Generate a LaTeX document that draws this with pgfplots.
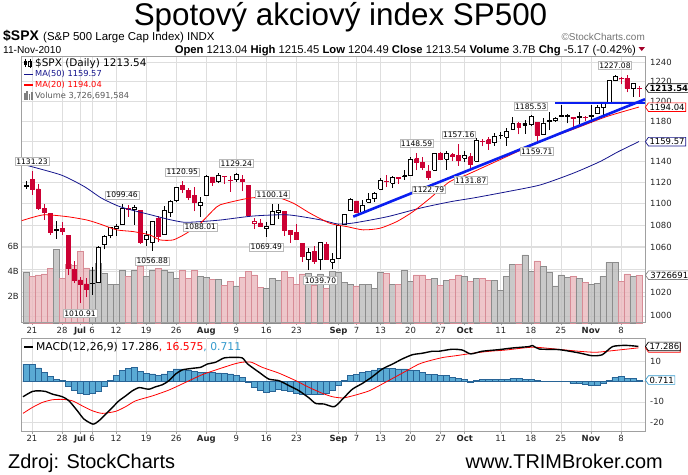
\documentclass[border=0pt]{standalone}
\usepackage{pgfplots}
\pgfplotsset{compat=1.18}
\usepackage{pgfplotstable}
\usetikzlibrary{shapes.symbols}
\usepackage{fontspec}
\setmainfont{Liberation Sans}
\newfontfamily\dv{DejaVu Sans}

\definecolor{cred}{RGB}{204,0,51}
\definecolor{navyma}{RGB}{20,20,140}
\definecolor{trend}{RGB}{10,30,240}
\definecolor{vgray}{RGB}{188,188,188}
\definecolor{vgrayd}{RGB}{140,140,140}
\definecolor{vpink}{RGB}{234,184,189}
\definecolor{vpinkd}{RGB}{215,140,150}
\definecolor{hist}{RGB}{90,170,212}
\definecolor{histd}{RGB}{40,100,150}
\definecolor{gridc}{RGB}{222,222,222}
\definecolor{gridm}{RGB}{175,175,175}
\definecolor{framec}{RGB}{160,160,160}
\definecolor{macdblue}{RGB}{51,153,204}

\pgfplotstableread{
i o h l c v
0 1116.16 1121.01 1113.93 1117.51 3.95
1 1122.79 1131.23 1108.24 1113.20 3.60
2 1113.90 1118.50 1094.18 1095.31 3.74
3 1095.57 1099.64 1085.31 1092.04 3.82
4 1090.93 1090.93 1071.60 1073.69 4.27
5 1075.10 1083.56 1067.89 1076.76 5.80
6 1077.50 1082.60 1071.45 1074.57 3.47
7 1071.10 1071.10 1035.18 1041.24 4.60
8 1040.56 1048.08 1028.33 1030.71 4.50
9 1031.10 1033.58 1010.91 1027.37 5.60
10 1027.65 1032.95 1015.93 1022.58 4.30
11 1028.09 1042.50 1018.35 1028.06 4.08
12 1028.54 1060.89 1028.54 1060.27 4.67
13 1062.92 1071.25 1058.24 1070.25 3.87
14 1070.50 1078.16 1068.10 1077.96 3.00
15 1077.23 1080.78 1070.45 1078.75 3.00
16 1080.65 1099.46 1080.65 1095.34 4.08
17 1095.61 1099.08 1087.68 1095.17 3.65
18 1094.46 1098.66 1080.53 1096.48 4.08
19 1093.85 1093.85 1063.32 1064.88 4.46
20 1066.85 1074.70 1061.11 1071.25 3.65
21 1064.53 1083.94 1056.88 1083.48 4.08
22 1086.67 1088.96 1065.25 1069.59 4.27
23 1072.14 1097.50 1072.14 1093.67 4.08
24 1092.17 1103.73 1087.88 1102.66 3.92
25 1102.89 1115.01 1101.30 1115.01 3.47
26 1117.36 1120.95 1109.78 1113.84 4.08
27 1112.84 1114.66 1103.11 1106.13 3.47
28 1108.07 1115.90 1092.82 1101.53 4.08
29 1098.44 1106.44 1088.01 1101.60 3.60
30 1107.53 1127.30 1107.53 1125.86 3.55
31 1125.34 1125.44 1116.76 1120.46 3.39
32 1121.06 1128.75 1119.46 1127.24 3.39
33 1125.78 1126.56 1118.81 1125.81 2.93
34 1122.07 1126.56 1111.38 1121.64 3.25
35 1122.80 1129.24 1120.91 1127.79 2.86
36 1122.92 1127.16 1111.58 1121.06 3.55
37 1116.89 1116.89 1088.55 1089.47 4.00
38 1081.48 1086.72 1076.69 1083.61 3.74
39 1082.22 1086.25 1079.00 1079.25 2.74
40 1077.49 1082.62 1069.49 1079.38 2.66
41 1081.16 1100.14 1081.16 1092.54 3.47
42 1092.08 1099.77 1085.76 1094.16 3.33
43 1092.44 1092.44 1070.66 1075.63 4.00
44 1075.63 1075.63 1063.91 1071.69 3.55
45 1073.36 1081.58 1067.08 1067.36 3.00
46 1063.20 1063.20 1046.68 1051.87 3.82
47 1048.98 1059.38 1039.83 1055.33 3.87
48 1056.28 1061.45 1045.40 1047.22 2.93
49 1049.27 1065.21 1039.70 1064.59 3.82
50 1062.90 1064.40 1048.79 1048.92 2.66
51 1046.88 1055.14 1040.88 1049.33 4.00
52 1049.72 1081.30 1049.72 1080.29 3.92
53 1080.66 1090.10 1080.39 1090.10 3.12
54 1093.61 1105.10 1093.61 1104.51 3.00
55 1102.60 1102.60 1091.15 1091.84 2.86
56 1092.36 1103.26 1092.36 1098.87 3.00
57 1101.15 1110.27 1101.15 1104.18 3.00
58 1104.57 1110.88 1101.66 1109.55 2.66
59 1113.38 1123.87 1113.38 1121.90 3.92
60 1121.16 1127.36 1115.58 1121.10 3.87
61 1119.43 1126.46 1114.63 1125.07 3.00
62 1123.89 1125.44 1118.88 1124.66 3.00
63 1126.39 1131.47 1122.43 1125.59 4.08
64 1126.57 1144.86 1126.57 1142.71 3.20
65 1142.82 1148.59 1131.87 1139.78 3.74
66 1139.49 1144.38 1131.58 1134.28 3.74
67 1131.10 1136.77 1122.79 1124.83 3.39
68 1131.69 1148.40 1131.69 1148.17 3.47
69 1148.14 1149.52 1142.00 1142.16 2.93
70 1142.31 1150.00 1132.09 1147.70 3.33
71 1146.75 1148.63 1140.26 1144.73 3.39
72 1145.97 1157.16 1136.08 1141.20 3.74
73 1143.49 1150.30 1139.42 1146.24 3.65
74 1144.96 1148.16 1131.87 1137.03 3.25
75 1140.68 1162.76 1140.68 1160.75 3.47
76 1159.81 1162.33 1154.85 1159.97 3.47
77 1161.57 1163.87 1151.41 1158.06 3.33
78 1158.36 1167.73 1155.58 1165.15 3.33
79 1165.32 1168.68 1162.02 1165.32 2.53
80 1164.28 1172.58 1155.71 1169.77 3.65
81 1171.32 1184.38 1171.32 1178.10 4.60
82 1177.82 1178.89 1166.71 1173.81 4.60
83 1177.47 1181.20 1167.12 1176.19 5.34
84 1176.83 1185.53 1174.55 1184.71 4.00
85 1178.64 1178.64 1159.71 1165.90 4.86
86 1166.74 1182.94 1166.74 1178.17 4.40
87 1179.82 1189.43 1171.17 1180.26 3.92
88 1180.52 1183.93 1178.99 1183.08 2.86
89 1184.74 1196.14 1184.74 1185.62 3.74
90 1184.88 1187.11 1177.72 1185.64 3.55
91 1183.84 1183.84 1171.70 1182.45 3.65
92 1184.47 1189.53 1177.10 1183.78 3.47
93 1183.87 1185.46 1179.70 1183.26 3.14
94 1185.71 1195.81 1177.65 1184.38 3.00
95 1187.86 1195.88 1187.86 1193.57 3.06
96 1193.79 1198.30 1183.56 1197.96 3.65
97 1198.34 1221.25 1198.34 1221.06 4.74
98 1221.20 1227.08 1220.29 1225.85 4.74
99 1223.24 1224.57 1217.55 1223.25 3.25
100 1223.59 1226.84 1208.94 1213.40 3.82
101 1213.14 1218.75 1204.33 1218.71 3.65
102 1213.04 1215.45 1204.49 1213.54 3.73
}\ohlc

\pgfplotstableread{
i v
-0.8 1137.8
5.8 1127.2
9.7 1116.1
12.5 1105.4
15.3 1097.9
17.5 1094.2
20.8 1089.6
23.6 1085.6
26.3 1082.8
29.1 1083.4
32.4 1084.9
37.9 1088.6
43.6 1089.6
49.1 1084.9
51.9 1081.2
54.6 1082.2
60.2 1088.0
65.7 1096.0
70.7 1101.9
74.5 1105.4
80.2 1111.4
85.6 1117.7
91.1 1128.9
95.5 1140.0
98.5 1149.5
102 1159.57
}\maL

\pgfplotstableread{
i v
-0.7 1084.3
2.9 1089.6
6.8 1088.0
10.1 1084.9
12.3 1081.2
15.1 1075.8
17.9 1074.2
20.6 1071.2
22.3 1066.7
24.5 1066.7
26.7 1072.7
29.0 1081.8
31.2 1094.2
32.3 1098.9
35.6 1103.5
37.8 1105.6
41.7 1106.0
44.5 1100.4
47.3 1091.0
50.6 1081.8
53.4 1078.8
56.1 1075.8
58.9 1077.3
61.7 1083.4
64.4 1092.6
67.2 1105.0
70.5 1120.8
73.3 1127.2
80.0 1144.9
85.5 1159.5
91.1 1171.8
96.6 1184.4
102 1194.04
}\maS

\pgfplotstableread{
i h
0 8.6
1 8.3
2 6.7
3 4.5
4 2.5
5 1.2
6 0.4
7 -2.5
8 -4.5
9 -5.8
10 -6.2
11 -5.8
12 -4.9
13 -2.5
14 0.6
15 2.9
16 5.3
17 6.5
18 7.0
19 4.9
20 4.0
21 3.7
22 3.1
23 3.7
24 4.9
25 6.2
26 6.2
27 5.7
28 5.0
29 4.5
30 4.5
31 4.5
32 4.2
33 4.0
34 3.7
35 3.2
36 2.0
37 -0.5
38 -3.0
39 -4.5
40 -5.4
41 -4.9
42 -3.7
43 -4.5
44 -4.9
45 -5.8
46 -6.2
47 -6.5
48 -6.5
49 -6.5
50 -5.8
51 -4.5
52 -1.6
53 0.4
54 2.9
55 3.4
56 4.5
57 5.0
58 5.7
59 6.5
60 6.5
61 6.5
62 6.2
63 6.2
64 5.7
65 5.3
66 4.5
67 3.4
68 3.4
69 2.9
70 2.9
71 2.0
72 1.5
73 1.2
74 -0.2
75 0.6
76 1.2
77 1.2
78 1.2
79 1.2
80 1.2
81 1.7
82 1.5
83 1.2
84 1.2
85 0.4
86 -0.1
87 -0.1
88 -0.1
89 -0.1
90 -0.1
91 -0.9
92 -0.9
93 -1.2
94 -1.6
95 -1.6
96 -0.9
97 0.6
98 2.0
99 2.5
100 1.7
101 1.7
102 0.711
}\histtab

\pgfplotstableread{
i v
-0.5 -7.5
1.05 -4.9
2.16 -4.6
3.27 -4.9
4.38 -6.2
6.05 -7.5
7.15 -9.5
8.54 -14.4
9.65 -18.5
11.15 -21.0
12.15 -19.3
13.26 -16.1
14.37 -12.8
15.47 -9.5
16.58 -7.1
17.69 -4.6
18.8 -3.0
19.63 -3.4
20.47 -3.8
21.57 -2.6
22.68 -1.6
23.79 0.4
24.9 3.7
26.0 5.7
27.68 6.5
29.06 7.0
30.17 8.6
31.56 9.5
32.95 11.6
34.6 11.9
36 11.6
36.9 8.6
38.8 4.5
40.4 1.2
42.1 0.4
43.8 -2.1
45.4 -4.5
47.1 -8.1
48.2 -10.8
49.6 -11.1
51.3 -12.4
52.7 -8.6
54.3 -3.8
56.0 -0.9
57.6 2.3
59.3 6.2
61.0 8.6
62.6 11.1
64.3 13.2
65.9 13.9
67.6 14.9
68.7 14.9
70.9 15.9
72.6 15.5
74 13.6
75.9 14.9
78.7 15.7
80.9 16.5
83.7 17.2
84.3 17.7
85.4 16.0
88.7 15.7
92 14.1
94.2 12.7
95.9 13.2
97.6 17.2
99.8 17.8
101.9 17.286
}\macdtab

\pgfplotstableread{
i v
-0.5 -15.7
1.05 -12.8
2.72 -10.3
4.38 -9.0
6.05 -8.8
7.71 -9.5
9.37 -12.0
11.04 -14.4
12.7 -15.7
14.92 -14.7
16.58 -12.4
18.25 -9.5
21.02 -7.1
23.79 -4.2
26.57 -0.4
29.34 3.4
32.11 6.2
34.6 8.6
36 9.5
37.5 9.5
39.3 7.0
42.1 4.1
44.9 0.4
47.1 -2.9
49.3 -5.8
51 -7.5
52.7 -8.1
54.3 -7.1
57.1 -4.6
59.8 -0.4
62.6 4.1
65.4 8.6
67.6 10.6
69.5 11.9
71.5 12.7
74.3 13.9
77.1 14.9
79.8 15.5
84.3 16.9
88.1 16.0
92 14.9
94.8 14.4
97.6 15.2
101.9 16.575
}\sigtab

\newcommand\tf{\dv\fontsize{8.5}{9}\selectfont}

\pgfplotsset{
  panel/.style={scale only axis, width=624bp, xmin=-0.83, xmax=103,
    anchor=north west, axis line style={draw=none}},
  dates/.style={
    xtick={1,6,9,11,15,20,25,30,35,40,45,52,55,59,64,69,73,79,84,89,94,99},
    xticklabels={21,28,\textbf{Jul},6,12,19,26,\textbf{Aug},9,16,23,\textbf{Sep},7,13,20,27,\textbf{Oct},11,18,25,\textbf{Nov},8},
    extra x ticks={9,30,52,73,94}, extra x tick labels={,,,,},
    extra x tick style={grid style={gridm, line width=0.6bp}},
    xtick pos=left, tick align=outside, major tick length=2.5bp,
    xtick style={framec, line width=0.5bp},
    xticklabel style={font=\tf, text=black!85, inner sep=1.5bp},
  },
}
\tikzset{
  lbl/.style={draw=gray!55, fill=white, inner sep=1.1bp, line width=0.5bp,
    font=\dv\fontsize{7.6}{8}\selectfont},
  tag/.style={signal, signal to=west, signal pointer angle=110, fill=white,
    line width=0.7bp, inner sep=1.1bp, anchor=west, font=\dv\fontsize{8.5}{9}\selectfont},
}

\begin{document}
\begin{tikzpicture}
\useasboundingbox (0,0) rectangle (688bp,-475bp);

% ---- grid layer of main panel (price scale)
\begin{axis}[panel, at={(21bp,-57bp)}, height=266bp,
  ymode=log, ymin=994.1, ymax=1246, dates,
  ytick={1000,1020,1040,1060,1080,1100,1120,1140,1160,1180,1200,1220,1240},
  yticklabels={1000,1020,,1060,1080,1100,1120,1140,,1180,1200,1220,1240},
  yticklabel pos=right, ytick style={draw=none},
  yticklabel style={font=\tf, text=black!85, inner sep=2.5bp},
  grid=major, major grid style={gridc, line width=0.6bp}]
\addplot[draw=none] coordinates {(0,1100)};
\end{axis}

% ---- volume
\begin{axis}[panel, at={(21bp,-57bp)}, height=266bp,
  ymin=-0.104, ymax=21.176, xtick=\empty,
  ytick={2,4,6}, yticklabels={2B,4B,6B}, yticklabel pos=left,
  ytick style={draw=none}, ymajorgrids, major grid style={gridc, line width=0.6bp},
  yticklabel style={font=\tf, text=black!85, inner sep=2bp}]
\def\prevc{1116.04}
\pgfplotsforeachungrouped \k in {0,...,102}{%
  \pgfplotstablegetelem{\k}{c}\of\ohlc \let\vc\pgfplotsretval
  \pgfplotstablegetelem{\k}{v}\of\ohlc \let\vv\pgfplotsretval
  \ifdim\vc pt<\prevc pt \def\vf{vpink}\def\vd{vpinkd}\else\def\vf{vgray}\def\vd{vgrayd}\fi
  \pgfmathsetmacro\xa{\k-0.5}\pgfmathsetmacro\xb{\k+0.5}%
  \edef\temp{\noexpand\addplot[draw=\vd, fill=\vf, fill opacity=0.8, line width=0.6bp]
     coordinates {(\xa,-0.1)(\xb,-0.1)(\xb,\vv)(\xa,\vv)(\xa,-0.1)};}%
  \temp
  \let\prevc\vc
}
\end{axis}

% ---- price content
\begin{axis}[panel, at={(21bp,-57bp)}, height=266bp,
  ymode=log, ymin=994.1, ymax=1246, xtick=\empty, ytick=\empty, clip=false,
  axis line style={draw=framec, line width=0.8bp}]
\def\prevc{1116.04}
\pgfplotsforeachungrouped \k in {0,...,102}{%
  \pgfplotstablegetelem{\k}{o}\of\ohlc \let\vo\pgfplotsretval
  \pgfplotstablegetelem{\k}{h}\of\ohlc \let\vh\pgfplotsretval
  \pgfplotstablegetelem{\k}{l}\of\ohlc \let\vl\pgfplotsretval
  \pgfplotstablegetelem{\k}{c}\of\ohlc \let\vc\pgfplotsretval
  \ifdim\vc pt<\prevc pt \def\cc{cred}\else\def\cc{black}\fi
  \ifdim\vc pt>\vo pt \def\cf{white}\else\edef\cf{\cc}\fi
  \pgfmathsetmacro\xa{\k-0.33}\pgfmathsetmacro\xb{\k+0.33}%
  \edef\temp{\noexpand\addplot[draw=\cc, line width=0.6bp] coordinates {(\k,\vl)(\k,\vh)};
    \noexpand\addplot[draw=\cc, fill=\cf, line width=0.6bp]
      coordinates {(\xa,\vo)(\xb,\vo)(\xb,\vc)(\xa,\vc)(\xa,\vo)};}%
  \temp
  \let\prevc\vc
}
\addplot[navyma, line width=0.8bp, smooth, tension=0.4] table[x=i,y=v] {\maL};
\addplot[red, line width=0.8bp, smooth, tension=0.4] table[x=i,y=v] {\maS};
\addplot[trend, line width=2.6bp] coordinates {(54.46,1088.0) (103,1202.0)};
\addplot[trend, line width=2.3bp] coordinates {(88,1197.96) (103,1197.96)};
% high / low labels
\node[lbl, anchor=south, yshift=5bp] at (axis cs:1,1131.23) {1131.23};
\node[lbl, anchor=north, yshift=-6bp] at (axis cs:9,1010.91) {1010.91};
\node[lbl, anchor=south, yshift=5bp] at (axis cs:16,1099.46) {1099.46};
\node[lbl, anchor=north, yshift=-6bp] at (axis cs:21,1056.88) {1056.88};
\node[lbl, anchor=south, yshift=5bp] at (axis cs:26,1120.95) {1120.95};
\node[lbl, anchor=north, yshift=-6bp] at (axis cs:29,1088.01) {1088.01};
\node[lbl, anchor=south, yshift=5bp] at (axis cs:35,1129.24) {1129.24};
\node[lbl, anchor=north, yshift=-6bp] at (axis cs:40,1069.49) {1069.49};
\node[lbl, anchor=south, yshift=5bp] at (axis cs:41,1100.14) {1100.14};
\node[lbl, anchor=north, yshift=-6bp] at (axis cs:49,1039.70) {1039.70};
\node[lbl, anchor=south, yshift=5bp] at (axis cs:65,1148.59) {1148.59};
\node[lbl, anchor=north, yshift=-6bp] at (axis cs:67,1122.79) {1122.79};
\node[lbl, anchor=south, yshift=5bp] at (axis cs:72,1157.16) {1157.16};
\node[lbl, anchor=north, yshift=-6bp] at (axis cs:74,1131.87) {1131.87};
\node[lbl, anchor=south, yshift=5bp] at (axis cs:84,1185.53) {1185.53};
\node[lbl, anchor=north, yshift=-6bp] at (axis cs:85,1159.71) {1159.71};
\node[lbl, anchor=south, yshift=5bp] at (axis cs:98,1227.08) {1227.08};
\coordinate (tA) at (axis cs:103,1213.54);
\coordinate (tB) at (axis cs:103,1194.04);
\coordinate (tC) at (axis cs:103,1159.57);
\coordinate (tV) at (axis cs:103,1035.3);
\end{axis}

% ---- MACD panel
\begin{axis}[panel, at={(21bp,-338bp)}, height=93bp,
  ymin=-24.38, ymax=21.43, dates, clip=false,
  ytick={-20,-10,0,10}, yticklabels={-20,-10,,10},
  yticklabel pos=right, ytick style={draw=none},
  yticklabel style={font=\tf, text=black!85, inner sep=2.5bp},
  grid=major, major grid style={gridc, line width=0.6bp},
  axis line style={draw=framec, line width=0.8bp}]
\addplot[ybar, bar width=1, bar shift=0pt, fill=hist, draw=histd, line width=0.5bp] table[x=i,y=h] {\histtab};
\addplot[red, line width=0.8bp, smooth, tension=0.4] table[x=i,y=v] {\sigtab};
\addplot[black, line width=1.4bp, smooth, tension=0.4] table[x=i,y=v] {\macdtab};
\coordinate (mA) at (axis cs:103,17.286);
\coordinate (mB) at (axis cs:103,16.575);
\coordinate (mC) at (axis cs:103,0.711);
\end{axis}

% ---- value tags
\node[tag, draw=black, font=\dv\bfseries\fontsize{8.5}{9}\selectfont] at (tA) {1213.54};
\node[tag, draw=red] at (tB) {1194.04};
\node[tag, draw=navyma] at (tC) {1159.57};
\node[tag, draw=gray, inner xsep=2bp] at (tV) {3726691};
\node[tag, draw=red] at (mB) {16.575};
\node[tag, draw=black] at (mA) {17.286};
\node[tag, draw=macdblue] at (mC) {0.711};

% ---- legends
\begin{scope}
\draw[black, line width=0.8bp] (25bp,-58.5bp) -- (25bp,-67bp);
\fill[black] (23.5bp,-61bp) rectangle (26.5bp,-65bp);
\draw[black, line width=0.8bp] (30bp,-59bp) -- (30bp,-68bp);
\draw[black, line width=0.8bp] (28.5bp,-61bp) rectangle (31.5bp,-66bp);
\node[anchor=west, inner sep=0, font=\dv\fontsize{10.5}{11}\selectfont] at (35bp,-63.3bp) {\$SPX (Daily) 1213.54};
\draw[navyma, line width=1.6bp] (24bp,-74.3bp) -- (33bp,-74.3bp);
\node[anchor=west, inner sep=0, text=navyma, font=\dv\fontsize{8.3}{9}\selectfont] at (35bp,-74.3bp) {MA(50) 1159.57};
\draw[red, line width=1.6bp] (24bp,-85bp) -- (33bp,-85bp);
\node[anchor=west, inner sep=0, text=red, font=\dv\fontsize{8.3}{9}\selectfont] at (35bp,-85bp) {MA(20) 1194.04};
\fill[gray] (24bp,-99.5bp) rectangle (25.6bp,-93bp);
\fill[gray] (26.3bp,-99.5bp) rectangle (27.9bp,-91bp);
\fill[gray] (28.6bp,-99.5bp) rectangle (30.2bp,-94bp);
\fill[gray] (30.9bp,-99.5bp) rectangle (32.5bp,-92bp);
\node[anchor=west, inner sep=0, text=black!65, font=\dv\fontsize{8.3}{9}\selectfont] at (35bp,-95.7bp) {Volume 3,726,691,584};
\draw[black, line width=1.6bp] (24bp,-346.7bp) -- (33bp,-346.7bp);
\node[anchor=west, inner sep=0, font=\dv\fontsize{10.8}{11}\selectfont] at (36bp,-346.7bp) {MACD(12,26,9) 17.286\textcolor{red}{, 16.575}\textcolor{macdblue}{, 0.711}};
\end{scope}

% ---- header and footer
\node[anchor=base, inner sep=0, font=\fontsize{31.5}{34}\selectfont] at (340.5bp,-25.5bp) {Spotový akciový index SP500};
\node[anchor=base west, inner sep=0, font=\bfseries\fontsize{14}{15}\selectfont] at (3bp,-40bp) {\$SPX};
\node[anchor=base west, inner sep=0, font=\fontsize{11.5}{12}\selectfont] at (43bp,-40bp) {(S\&P 500 Large Cap Index) INDX};
\node[anchor=base east, inner sep=0, text=black!55, font=\fontsize{10}{11}\selectfont] at (645bp,-40bp) {\textcopyright StockCharts.com};
\node[anchor=base west, inner sep=0, font=\fontsize{10.2}{11}\selectfont] at (3bp,-53bp) {11-Nov-2010};
\node[anchor=base east, inner sep=0, font=\fontsize{11.3}{12}\selectfont] at (636bp,-53.3bp) {\textbf{Open} 1213.04 \textbf{High} 1215.45 \textbf{Low} 1204.49 \textbf{Close} 1213.54 \textbf{Volume} 3.7B \textbf{Chg} -5.17 (-0.42\%)};
\fill[cred!80!black] (638.5bp,-47bp) -- (645bp,-47bp) -- (641.75bp,-51bp) -- cycle;
\node[anchor=base west, inner sep=0, font=\fontsize{20}{22}\selectfont] at (8bp,-468bp) {Zdroj: StockCharts};
\node[anchor=base east, inner sep=0, font=\fontsize{20}{22}\selectfont] at (663bp,-468bp) {www.TRIMBroker.com};
\end{tikzpicture}
\end{document}
